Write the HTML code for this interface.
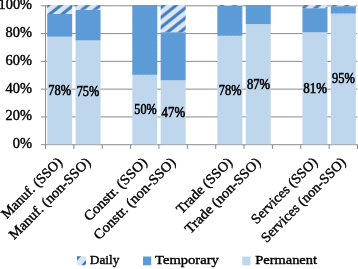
<!DOCTYPE html>
<html><head><meta charset="utf-8"><title>Chart</title>
<style>
html,body{margin:0;padding:0;background:#fff;}
svg{display:block;}
text{font-family:"Liberation Serif",serif;fill:#000;stroke:#000;stroke-width:0.4px;}
.dl text{stroke-width:0.55px;}
</style></head><body>
<svg width="358" height="269" viewBox="0 0 358 269">
<defs>
<pattern id="pd0" patternUnits="userSpaceOnUse" width="12.5" height="10.0" patternTransform="translate(0,3.9)">
<rect width="12.5" height="10.0" fill="#dce6f2"/>
<g stroke="#3f7cc2" stroke-width="3.0">
<line x1="-12.5" y1="20.0" x2="25.0" y2="-10.0"/>
<line x1="-12.5" y1="10.0" x2="12.5" y2="-10.0"/>
<line x1="0" y1="20.0" x2="25.0" y2="0"/>
</g>
</pattern>
<pattern id="pd1" patternUnits="userSpaceOnUse" width="12.5" height="10.0" patternTransform="translate(0,5.5)">
<rect width="12.5" height="10.0" fill="#dce6f2"/>
<g stroke="#3f7cc2" stroke-width="3.0">
<line x1="-12.5" y1="20.0" x2="25.0" y2="-10.0"/>
<line x1="-12.5" y1="10.0" x2="12.5" y2="-10.0"/>
<line x1="0" y1="20.0" x2="25.0" y2="0"/>
</g>
</pattern>
<pattern id="pd4" patternUnits="userSpaceOnUse" width="12.5" height="10.0" patternTransform="translate(0,6.2)">
<rect width="12.5" height="10.0" fill="#dce6f2"/>
<g stroke="#3f7cc2" stroke-width="3.0">
<line x1="-12.5" y1="20.0" x2="25.0" y2="-10.0"/>
<line x1="-12.5" y1="10.0" x2="12.5" y2="-10.0"/>
<line x1="0" y1="20.0" x2="25.0" y2="0"/>
</g>
</pattern>
<pattern id="pd6" patternUnits="userSpaceOnUse" width="12.5" height="10.0" patternTransform="translate(0,3.0)">
<rect width="12.5" height="10.0" fill="#dce6f2"/>
<g stroke="#3f7cc2" stroke-width="3.0">
<line x1="-12.5" y1="20.0" x2="25.0" y2="-10.0"/>
<line x1="-12.5" y1="10.0" x2="12.5" y2="-10.0"/>
<line x1="0" y1="20.0" x2="25.0" y2="0"/>
</g>
</pattern>
<pattern id="pd9" patternUnits="userSpaceOnUse" width="12.5" height="10.0" patternTransform="translate(0,0.3)">
<rect width="12.5" height="10.0" fill="#dce6f2"/>
<g stroke="#3f7cc2" stroke-width="3.0">
<line x1="-12.5" y1="20.0" x2="25.0" y2="-10.0"/>
<line x1="-12.5" y1="10.0" x2="12.5" y2="-10.0"/>
<line x1="0" y1="20.0" x2="25.0" y2="0"/>
</g>
</pattern>
<pattern id="pd10" patternUnits="userSpaceOnUse" width="12.5" height="10.0" patternTransform="translate(0,3.0)">
<rect width="12.5" height="10.0" fill="#dce6f2"/>
<g stroke="#3f7cc2" stroke-width="3.0">
<line x1="-12.5" y1="20.0" x2="25.0" y2="-10.0"/>
<line x1="-12.5" y1="10.0" x2="12.5" y2="-10.0"/>
<line x1="0" y1="20.0" x2="25.0" y2="0"/>
</g>
</pattern>
<pattern id="pt" patternUnits="userSpaceOnUse" width="4" height="4">
<rect width="4" height="4" fill="#5c9cd7"/>
<rect x="0" y="0" width="1" height="1" fill="#5895d2"/>
<rect x="2" y="2" width="1" height="1" fill="#5895d2"/>
</pattern>
<pattern id="pp" patternUnits="userSpaceOnUse" width="4" height="4">
<rect width="4" height="4" fill="#bdd6ed"/>
<rect x="0" y="0" width="1" height="1" fill="#c3daef"/>
<rect x="2" y="2" width="1" height="1" fill="#c3daef"/>
</pattern>
</defs>
<rect width="358" height="269" fill="#fff"/>

<g stroke="#8c8c8c" stroke-width="1" fill="none">
<line x1="41" y1="5.80" x2="357.5" y2="5.80"/>
<line x1="41" y1="33.58" x2="357.5" y2="33.58"/>
<line x1="41" y1="61.36" x2="357.5" y2="61.36"/>
<line x1="41" y1="89.14" x2="357.5" y2="89.14"/>
<line x1="41" y1="116.92" x2="357.5" y2="116.92"/>
<line x1="41" y1="144.70" x2="357.5" y2="144.70"/>
<line x1="45.5" y1="5.3" x2="45.5" y2="149"/>
<line x1="45.50" y1="144.7" x2="45.50" y2="149"/>
<line x1="73.86" y1="144.7" x2="73.86" y2="149"/>
<line x1="102.23" y1="144.7" x2="102.23" y2="149"/>
<line x1="130.59" y1="144.7" x2="130.59" y2="149"/>
<line x1="158.95" y1="144.7" x2="158.95" y2="149"/>
<line x1="187.32" y1="144.7" x2="187.32" y2="149"/>
<line x1="215.68" y1="144.7" x2="215.68" y2="149"/>
<line x1="244.05" y1="144.7" x2="244.05" y2="149"/>
<line x1="272.41" y1="144.7" x2="272.41" y2="149"/>
<line x1="300.77" y1="144.7" x2="300.77" y2="149"/>
<line x1="329.14" y1="144.7" x2="329.14" y2="149"/>
<line x1="357.50" y1="144.7" x2="357.50" y2="149"/>
</g>
<rect x="47.18" y="36.7" width="25.0" height="107.60" fill="url(#pp)"/>
<rect x="47.18" y="14.0" width="25.0" height="22.70" fill="url(#pt)"/>
<rect x="47.18" y="5.1" width="25.0" height="8.90" fill="url(#pd0)"/>
<rect x="75.55" y="40.4" width="25.0" height="103.90" fill="url(#pp)"/>
<rect x="75.55" y="9.8" width="25.0" height="30.60" fill="url(#pt)"/>
<rect x="75.55" y="5.1" width="25.0" height="4.70" fill="url(#pd1)"/>
<rect x="132.27" y="74.8" width="25.0" height="69.50" fill="url(#pp)"/>
<rect x="132.27" y="5.0" width="25.0" height="69.80" fill="url(#pt)"/>
<rect x="160.64" y="80.3" width="25.0" height="64.00" fill="url(#pp)"/>
<rect x="160.64" y="32.2" width="25.0" height="48.10" fill="url(#pt)"/>
<rect x="160.64" y="5.1" width="25.0" height="27.10" fill="url(#pd4)"/>
<rect x="217.36" y="35.8" width="25.0" height="108.50" fill="url(#pp)"/>
<rect x="217.36" y="5.8" width="25.0" height="30.00" fill="url(#pt)"/>
<rect x="217.36" y="5.1" width="25.0" height="0.70" fill="url(#pd6)"/>
<rect x="245.73" y="24.1" width="25.0" height="120.20" fill="url(#pp)"/>
<rect x="245.73" y="5.0" width="25.0" height="19.10" fill="url(#pt)"/>
<rect x="302.45" y="32.3" width="25.0" height="112.00" fill="url(#pp)"/>
<rect x="302.45" y="8.2" width="25.0" height="24.10" fill="url(#pt)"/>
<rect x="302.45" y="5.1" width="25.0" height="3.10" fill="url(#pd9)"/>
<rect x="330.82" y="13.6" width="25.0" height="130.70" fill="url(#pp)"/>
<rect x="330.82" y="6.2" width="25.0" height="7.40" fill="url(#pt)"/>
<rect x="330.82" y="5.1" width="25.0" height="1.10" fill="url(#pd10)"/>
<g font-size="14px" text-anchor="end">
<text x="32" y="9.30" textLength="33.4" lengthAdjust="spacingAndGlyphs">100%</text>
<text x="32" y="37.08" textLength="26.4" lengthAdjust="spacingAndGlyphs">80%</text>
<text x="32" y="64.86" textLength="26.4" lengthAdjust="spacingAndGlyphs">60%</text>
<text x="32" y="92.64" textLength="26.4" lengthAdjust="spacingAndGlyphs">40%</text>
<text x="32" y="120.42" textLength="26.4" lengthAdjust="spacingAndGlyphs">20%</text>
<text x="32" y="148.20" textLength="19.3" lengthAdjust="spacingAndGlyphs">0%</text>
</g>
<g font-size="14px" class="dl">
<text x="48.2" y="94.8" textLength="22.9" lengthAdjust="spacingAndGlyphs">78%</text>
<text x="76.7" y="96.4" textLength="22.6" lengthAdjust="spacingAndGlyphs">75%</text>
<text x="134.3" y="113.8" textLength="22.3" lengthAdjust="spacingAndGlyphs">50%</text>
<text x="161.6" y="116.7" textLength="23.6" lengthAdjust="spacingAndGlyphs">47%</text>
<text x="218.8" y="94.7" textLength="22.7" lengthAdjust="spacingAndGlyphs">78%</text>
<text x="246.9" y="88.8" textLength="23.2" lengthAdjust="spacingAndGlyphs">87%</text>
<text x="303.3" y="92.5" textLength="23.8" lengthAdjust="spacingAndGlyphs">81%</text>
<text x="331.9" y="82.8" textLength="22.9" lengthAdjust="spacingAndGlyphs">95%</text>
</g>
<g font-size="14px" text-anchor="end">
<text transform="translate(62.98,163) rotate(-45)" textLength="79.5" lengthAdjust="spacingAndGlyphs">Manuf. (SSO)</text>
<text transform="translate(91.35,163) rotate(-45)" textLength="109" lengthAdjust="spacingAndGlyphs">Manuf. (non-SSO)</text>
<text transform="translate(148.07,163) rotate(-45)" textLength="83.2" lengthAdjust="spacingAndGlyphs">Constr. (SSO)</text>
<text transform="translate(176.44,163) rotate(-45)" textLength="109.5" lengthAdjust="spacingAndGlyphs">Constr. (non-SSO)</text>
<text transform="translate(233.16,163) rotate(-45)" textLength="72.7" lengthAdjust="spacingAndGlyphs">Trade (SSO)</text>
<text transform="translate(261.53,163) rotate(-45)" textLength="100.7" lengthAdjust="spacingAndGlyphs">Trade (non-SSO)</text>
<text transform="translate(318.25,163) rotate(-45)" textLength="87.2" lengthAdjust="spacingAndGlyphs">Services (SSO)</text>
<text transform="translate(346.62,163) rotate(-45)" textLength="113.4" lengthAdjust="spacingAndGlyphs">Services (non-SSO)</text>
</g>
<rect x="77" y="256.3" width="9" height="9" fill="#dce6f2"/><polygon points="77,256.3 81.2,256.3 77,260.5" fill="#3f7cc2"/><polygon points="81.3,265.3 86,260 86,263.6 84.6,265.3" fill="#3f7cc2"/>
<rect x="143" y="256.5" width="8.2" height="8.8" fill="#5b9bd5"/>
<rect x="242.2" y="256.5" width="8.2" height="8.8" fill="#bdd7ee"/>
<g font-size="13.5px">
<text x="89.8" y="264" textLength="29.6" lengthAdjust="spacingAndGlyphs">Daily</text>
<text x="155" y="264" textLength="63.9" lengthAdjust="spacingAndGlyphs">Temporary</text>
<text x="255.3" y="264" textLength="61.7" lengthAdjust="spacingAndGlyphs">Permanent</text>
</g>
</svg></body></html>
